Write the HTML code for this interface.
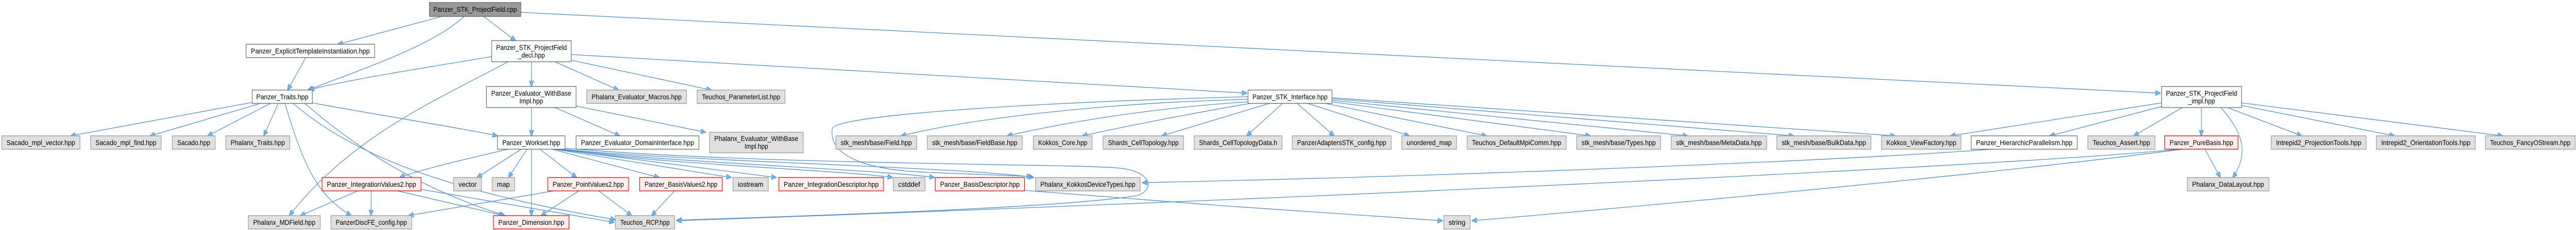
<!DOCTYPE html>
<html><head><meta charset="utf-8"><style>
html,body{margin:0;padding:0;background:#fff;height:447px;overflow:hidden;}
svg{display:block;width:100vw;height:447px;}
text{font-family:"Liberation Sans",sans-serif;font-size:14px;fill:#000;text-anchor:middle;}
.g rect{fill:#e0e0e0;stroke:#999;stroke-width:1.3;}
.w rect{fill:#fbfffb;stroke:#666;stroke-width:1.3;}
.r rect{fill:#fff0f0;stroke:#e00;stroke-width:1.3;}
.root rect{fill:#999;stroke:#666;stroke-width:1.3;}
path{fill:none;stroke:#4a8fd6;stroke-width:1.3;}
</style></head><body>
<svg viewBox="0 0 5831 447" preserveAspectRatio="none" xmlns="http://www.w3.org/2000/svg" overflow="hidden">
<defs><marker id="a" markerWidth="12" markerHeight="10" refX="11" refY="5" orient="auto" markerUnits="userSpaceOnUse"><path d="M0,0 L12,5 L0,10 z" style="fill:#63b8ff;stroke:#3d7fc4;stroke-width:0.8"/></marker></defs>
<g marker-end="url(#a)">
<path d="M1000,32 L765,86"/>
<path d="M1050,32 C980,90 800,140 697,175"/>
<path d="M1095,32 L1167,79"/>
<path d="M1179,24 L4890,181"/>
<path d="M692,112 L651,175"/>
<path d="M1113,110 C900,140 760,160 700,175"/>
<path d="M1150,120 C1000,190 800,260 655,419"/>
<path d="M1203,120 L1203,168"/>
<path d="M1256,120 L1400,175"/>
<path d="M1293,117 L1610,175"/>
<path d="M1293,106 L2822,181"/>
<path d="M571,199 L160,264"/>
<path d="M590,201 L340,264"/>
<path d="M612,201 L470,264"/>
<path d="M630,201 L597,264"/>
<path d="M645,201 C690,330 720,380 795,419"/>
<path d="M663,201 C800,300 1000,370 1393,427"/>
<path d="M707,200 C900,230 1050,250 1126,264"/>
<path d="M690,201 C850,320 1000,380 1143,419"/>
<path d="M1203,209 L1203,264"/>
<path d="M1256,209 L1403,264"/>
<path d="M1304,206 L1597,257"/>
<path d="M1150,290 C1050,310 950,330 905,345"/>
<path d="M1180,290 L1080,345"/>
<path d="M1193,290 L1151,345"/>
<path d="M1203,290 L1203,419"/>
<path d="M1222,290 L1305,345"/>
<path d="M1250,290 L1492,345"/>
<path d="M1255,290 L1655,345"/>
<path d="M1260,290 L1757,345"/>
<path d="M1265,290 C1500,320 1900,330 2020,345"/>
<path d="M1270,290 C1500,315 2000,330 2115,345"/>
<path d="M1275,290 C1500,312 2200,325 2340,345"/>
<path d="M810,371 L680,419"/>
<path d="M840,371 L840,419"/>
<path d="M900,371 L1140,419"/>
<path d="M953,368 L1390,432"/>
<path d="M1310,371 L1225,419"/>
<path d="M1355,371 L1430,419"/>
<path d="M1253,371 L925,419"/>
<path d="M1527,371 L1475,419"/>
<path d="M2825,193 C2500,200 2200,230 2040,264"/>
<path d="M2825,198 C2600,210 2400,240 2280,264"/>
<path d="M2830,201 C2700,220 2550,245 2450,264"/>
<path d="M2873,201 L2630,264"/>
<path d="M2903,201 L2822,264"/>
<path d="M2936,201 L3020,264"/>
<path d="M2960,201 L3190,264"/>
<path d="M3000,201 L3365,264"/>
<path d="M3015,198 L3600,264"/>
<path d="M3015,195 L3820,264"/>
<path d="M3015,192 L4060,264"/>
<path d="M3015,190 L4290,264"/>
<path d="M2825,188 C2300,200 1890,225 1884,250 C1875,300 1950,330 2100,335 L2335,343"/>
<path d="M1279,288 C1700,320 2400,318 2523,326 C2610,330 2615,370 2574,380 C2400,405 1800,420 1532,428"/>
<path d="M4510,290 C4200,310 3400,340 2586,355"/>
<path d="M4931,290 C4600,320 3000,385 1532,429"/>
<path d="M4940,290 C4500,340 3600,410 3332,429"/>
<path d="M2319,370 C2600,390 3000,415 3265,429"/>
<path d="M4893,200 L4415,264"/>
<path d="M4893,207 L4640,264"/>
<path d="M4940,209 L4830,264"/>
<path d="M4983,209 L4983,264"/>
<path d="M5027,209 C5080,260 5090,300 5054,345"/>
<path d="M4991,290 L5026,345"/>
<path d="M5042,209 L5210,264"/>
<path d="M5074,205 L5420,264"/>
<path d="M5074,200 L5665,264"/>
</g>

<g class="root"><rect x="972" y="5" width="207" height="27"/><text x="1075.5" y="23" textLength="189" lengthAdjust="spacingAndGlyphs">Panzer_STK_ProjectField.cpp</text></g>
<g class="w"><rect x="557" y="86" width="291" height="26"/><text x="702.5" y="104" textLength="269" lengthAdjust="spacingAndGlyphs">Panzer_ExplicitTemplateInstantiation.hpp</text></g>
<g class="w"><rect x="1113" y="79" width="180" height="41"/><text x="1203" y="97" textLength="160" lengthAdjust="spacingAndGlyphs">Panzer_STK_ProjectField</text><text x="1203" y="112">_decl.hpp</text></g>
<g class="w"><rect x="571" y="175" width="136" height="26"/><text x="639" y="193" textLength="118" lengthAdjust="spacingAndGlyphs">Panzer_Traits.hpp</text></g>
<g class="w"><rect x="1101" y="168" width="203" height="41"/><text x="1202.5" y="186" textLength="181" lengthAdjust="spacingAndGlyphs">Panzer_Evaluator_WithBase</text><text x="1202.5" y="201">Impl.hpp</text></g>
<g class="g"><rect x="1328" y="175" width="226" height="26"/><text x="1441" y="193" textLength="204" lengthAdjust="spacingAndGlyphs">Phalanx_Evaluator_Macros.hpp</text></g>
<g class="g"><rect x="1578" y="175" width="199" height="26"/><text x="1677.5" y="193" textLength="177" lengthAdjust="spacingAndGlyphs">Teuchos_ParameterList.hpp</text></g>
<g class="w"><rect x="2825" y="175" width="190" height="26"/><text x="2920" y="193" textLength="170" lengthAdjust="spacingAndGlyphs">Panzer_STK_Interface.hpp</text></g>
<g class="w"><rect x="4893" y="168" width="181" height="41"/><text x="4983.5" y="186" textLength="161" lengthAdjust="spacingAndGlyphs">Panzer_STK_ProjectField</text><text x="4983.5" y="201">_impl.hpp</text></g>

<g class="g"><rect x="4" y="264" width="177" height="26"/><text x="92.5" y="282" textLength="155" lengthAdjust="spacingAndGlyphs">Sacado_mpl_vector.hpp</text></g>
<g class="g"><rect x="205" y="264" width="160" height="26"/><text x="285" y="282" textLength="138" lengthAdjust="spacingAndGlyphs">Sacado_mpl_find.hpp</text></g>
<g class="g"><rect x="390" y="264" width="97" height="26"/><text x="438.5" y="282" textLength="75" lengthAdjust="spacingAndGlyphs">Sacado.hpp</text></g>
<g class="g"><rect x="511" y="264" width="145" height="26"/><text x="583.5" y="282" textLength="123" lengthAdjust="spacingAndGlyphs">Phalanx_Traits.hpp</text></g>
<g class="w"><rect x="1126" y="264" width="153" height="26"/><text x="1202.5" y="282" textLength="131" lengthAdjust="spacingAndGlyphs">Panzer_Workset.hpp</text></g>
<g class="w"><rect x="1304" y="264" width="278" height="26"/><text x="1443" y="282" textLength="256" lengthAdjust="spacingAndGlyphs">Panzer_Evaluator_DomainInterface.hpp</text></g>
<g class="g"><rect x="1606" y="257" width="212" height="40"/><text x="1712" y="274" textLength="190" lengthAdjust="spacingAndGlyphs">Phalanx_Evaluator_WithBase</text><text x="1712" y="289">Impl.hpp</text></g>
<g class="g"><rect x="1892" y="264" width="183" height="26"/><text x="1983.5" y="282" textLength="161" lengthAdjust="spacingAndGlyphs">stk_mesh/base/Field.hpp</text></g>
<g class="g"><rect x="2099" y="264" width="215" height="26"/><text x="2206.5" y="282" textLength="193" lengthAdjust="spacingAndGlyphs">stk_mesh/base/FieldBase.hpp</text></g>
<g class="g"><rect x="2339" y="264" width="133" height="26"/><text x="2405.5" y="282" textLength="111" lengthAdjust="spacingAndGlyphs">Kokkos_Core.hpp</text></g>
<g class="g"><rect x="2497" y="264" width="182" height="26"/><text x="2588" y="282" textLength="160" lengthAdjust="spacingAndGlyphs">Shards_CellTopology.hpp</text></g>
<g class="g"><rect x="2703" y="264" width="199" height="26"/><text x="2802.5" y="282" textLength="177" lengthAdjust="spacingAndGlyphs">Shards_CellTopologyData.h</text></g>
<g class="g"><rect x="2925" y="264" width="224" height="26"/><text x="3037" y="282" textLength="202" lengthAdjust="spacingAndGlyphs">PanzerAdaptersSTK_config.hpp</text></g>
<g class="g"><rect x="3173" y="264" width="124" height="26"/><text x="3235" y="282" textLength="102" lengthAdjust="spacingAndGlyphs">unordered_map</text></g>
<g class="g"><rect x="3321" y="264" width="224" height="26"/><text x="3433" y="282" textLength="202" lengthAdjust="spacingAndGlyphs">Teuchos_DefaultMpiComm.hpp</text></g>
<g class="g"><rect x="3569" y="264" width="190" height="26"/><text x="3664" y="282" textLength="168" lengthAdjust="spacingAndGlyphs">stk_mesh/base/Types.hpp</text></g>
<g class="g"><rect x="3783" y="264" width="216" height="26"/><text x="3891" y="282" textLength="194" lengthAdjust="spacingAndGlyphs">stk_mesh/base/MetaData.hpp</text></g>
<g class="g"><rect x="4022" y="264" width="213" height="26"/><text x="4128.5" y="282" textLength="191" lengthAdjust="spacingAndGlyphs">stk_mesh/base/BulkData.hpp</text></g>
<g class="g"><rect x="4259" y="264" width="180" height="26"/><text x="4349" y="282" textLength="158" lengthAdjust="spacingAndGlyphs">Kokkos_ViewFactory.hpp</text></g>
<g class="w"><rect x="4462" y="264" width="240" height="26"/><text x="4582" y="282" textLength="218" lengthAdjust="spacingAndGlyphs">Panzer_HierarchicParallelism.hpp</text></g>
<g class="g"><rect x="4726" y="264" width="152" height="26"/><text x="4802" y="282" textLength="130" lengthAdjust="spacingAndGlyphs">Teuchos_Assert.hpp</text></g>
<g class="r"><rect x="4900" y="264" width="166" height="26"/><text x="4983" y="282" textLength="144" lengthAdjust="spacingAndGlyphs">Panzer_PureBasis.hpp</text></g>
<g class="g"><rect x="5141" y="264" width="215" height="26"/><text x="5248.5" y="282" textLength="193" lengthAdjust="spacingAndGlyphs">Intrepid2_ProjectionTools.hpp</text></g>
<g class="g"><rect x="5379" y="264" width="224" height="26"/><text x="5491" y="282" textLength="202" lengthAdjust="spacingAndGlyphs">Intrepid2_OrientationTools.hpp</text></g>
<g class="g"><rect x="5626" y="264" width="203" height="26"/><text x="5727.5" y="282" textLength="182" lengthAdjust="spacingAndGlyphs">Teuchos_FancyOStream.hpp</text></g>

<g class="r"><rect x="729" y="345" width="224" height="26"/><text x="841" y="363" textLength="202" lengthAdjust="spacingAndGlyphs">Panzer_IntegrationValues2.hpp</text></g>
<g class="g"><rect x="1027" y="345" width="63" height="26"/><text x="1058.5" y="363" textLength="41" lengthAdjust="spacingAndGlyphs">vector</text></g>
<g class="g"><rect x="1114" y="345" width="51" height="26"/><text x="1139.5" y="363" textLength="29" lengthAdjust="spacingAndGlyphs">map</text></g>
<g class="r"><rect x="1240" y="345" width="183" height="26"/><text x="1331.5" y="363" textLength="161" lengthAdjust="spacingAndGlyphs">Panzer_PointValues2.hpp</text></g>
<g class="r"><rect x="1448" y="345" width="187" height="26"/><text x="1541.5" y="363" textLength="165" lengthAdjust="spacingAndGlyphs">Panzer_BasisValues2.hpp</text></g>
<g class="g"><rect x="1659" y="345" width="80" height="26"/><text x="1699" y="363" textLength="58" lengthAdjust="spacingAndGlyphs">iostream</text></g>
<g class="r"><rect x="1763" y="345" width="237" height="26"/><text x="1881.5" y="363" textLength="215" lengthAdjust="spacingAndGlyphs">Panzer_IntegrationDescriptor.hpp</text></g>
<g class="g"><rect x="2022" y="345" width="72" height="26"/><text x="2058" y="363" textLength="50" lengthAdjust="spacingAndGlyphs">cstddef</text></g>
<g class="r"><rect x="2117" y="345" width="202" height="26"/><text x="2218" y="363" textLength="180" lengthAdjust="spacingAndGlyphs">Panzer_BasisDescriptor.hpp</text></g>
<g class="g"><rect x="2344" y="345" width="237" height="26"/><text x="2462.5" y="363" textLength="215" lengthAdjust="spacingAndGlyphs">Phalanx_KokkosDeviceTypes.hpp</text></g>
<g class="g"><rect x="4951" y="345" width="185" height="26"/><text x="5043.5" y="363" textLength="163" lengthAdjust="spacingAndGlyphs">Phalanx_DataLayout.hpp</text></g>

<g class="g"><rect x="562" y="419" width="163" height="26"/><text x="643.5" y="437" textLength="141" lengthAdjust="spacingAndGlyphs">Phalanx_MDField.hpp</text></g>
<g class="g"><rect x="749" y="419" width="183" height="26"/><text x="840.5" y="437" textLength="161" lengthAdjust="spacingAndGlyphs">PanzerDiscFE_config.hpp</text></g>
<g class="r"><rect x="1117" y="419" width="171" height="26"/><text x="1202.5" y="437" textLength="149" lengthAdjust="spacingAndGlyphs">Panzer_Dimension.hpp</text></g>
<g class="g"><rect x="1393" y="419" width="134" height="26"/><text x="1460" y="437" textLength="112" lengthAdjust="spacingAndGlyphs">Teuchos_RCP.hpp</text></g>
<g class="g"><rect x="3268" y="419" width="60" height="26"/><text x="3298" y="437" textLength="38" lengthAdjust="spacingAndGlyphs">string</text></g>
</svg>
</body></html>
